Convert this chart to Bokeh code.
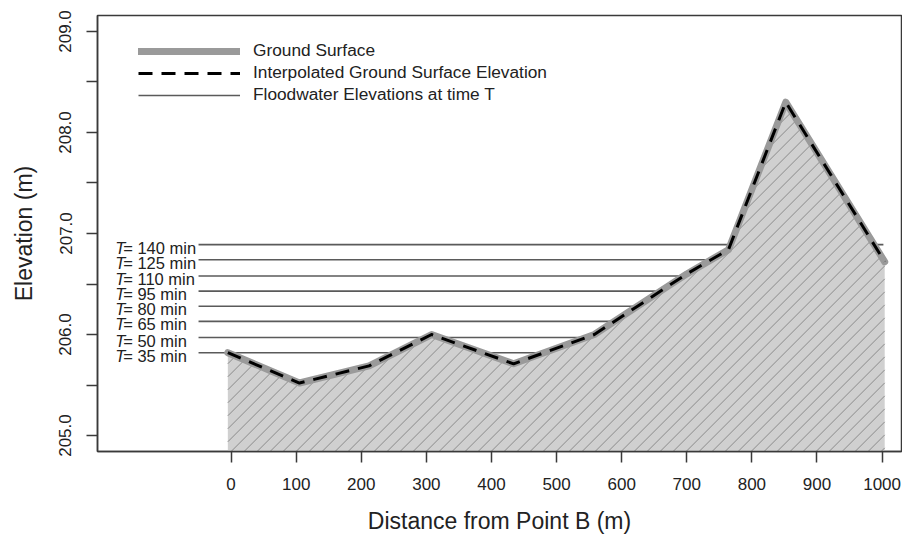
import numpy as np
from bokeh.plotting import figure
from bokeh.models import Range1d, FixedTicker, Legend, LegendItem, ColumnDataSource
from bokeh.core.properties import value
from bokeh.embed import file_html
from bokeh.resources import INLINE

# ---- data ----
distance = [-5, 105, 212, 308, 434, 558, 700, 764, 852, 1004]
ground_elev = [205.82, 205.52, 205.69, 206.00, 205.71, 206.00, 206.60, 206.84, 208.30, 206.72]
interp_elev = [205.82, 205.52, 205.69, 206.00, 205.71, 206.00, 206.60, 206.84, 208.30, 206.72]

flood_times = [35, 50, 65, 80, 95, 110, 125, 140]
flood_elev = [205.82, 205.97, 206.13, 206.28, 206.43, 206.58, 206.74, 206.89]
flood_start = -50
flood_end = 1002
label_x = -178

x_ticks = [0, 100, 200, 300, 400, 500, 600, 700, 800, 900, 1000]
y_ticks = [205.0, 205.5, 206.0, 206.5, 207.0, 207.5, 208.0, 208.5, 209.0]

FONT = "Liberation Sans"
AX = "#3a3a3a"
TXT = "#222222"

W, H = 902, 536
BL, BR, BT, BB = 97, 1, 15, 85
x0r, x1r = -205.2, 1029.8
y0, y1 = 204.842, 209.158

p = figure(width=W, height=H, output_backend="svg", toolbar_location=None,
           x_range=Range1d(x0r, x1r), y_range=Range1d(y0, y1),
           min_border_left=BL, min_border_right=BR, min_border_top=BT, min_border_bottom=BB)
p.grid.visible = False
p.outline_line_color = AX
p.outline_line_width = 1.5
p.background_fill_color = "white"
p.border_fill_color = "white"

# floodwater lines (beneath the ground polygon)
n = len(flood_elev)
r_flood = p.segment(x0=[flood_start] * n, x1=[flood_end] * n, y0=flood_elev, y1=flood_elev,
                    line_color="#5a5a5a", line_width=1.6)

# ground polygon fill
poly_x = distance + [distance[-1], distance[0]]
poly_y = ground_elev + [y0, y0]
p.patch(poly_x, poly_y, fill_color="#d0d0d0", line_color=None)

# 45-degree hatch lines clipped to the area under the ground profile
sx = (W - BL - BR) / (x1r - x0r)
sy = (H - BT - BB) / (y1 - y0)
m = sx / sy                     # data slope that looks like 45 degrees on screen
step = 13 / sx                  # 13 px between hatch lines
dx = np.array(distance, float)
gz = np.array(ground_elev, float)
hx0, hx1, hy0, hy1 = [], [], [], []
a = np.floor((dx[0] - (gz.max() - y0) / m) / step) * step
while a < dx[-1]:
    lo, hi = max(a, dx[0]), dx[-1]
    xs = np.concatenate([[lo], dx[(dx > lo) & (dx < hi)], [hi]])
    g = np.interp(xs, dx, gz) - (y0 + m * (xs - a))
    start = xs[0] if g[0] >= 0 else None
    segs = []
    for i in range(len(xs) - 1):
        ga, gb = g[i], g[i + 1]
        if ga >= 0 and gb < 0:
            xc = xs[i] + (xs[i + 1] - xs[i]) * ga / (ga - gb)
            segs.append((start, xc))
            start = None
        elif ga < 0 and gb >= 0:
            start = xs[i] + (xs[i + 1] - xs[i]) * ga / (ga - gb)
    if start is not None:
        segs.append((start, xs[-1]))
    for s0, s1 in segs:
        hx0.append(s0); hx1.append(s1)
        hy0.append(y0 + m * (s0 - a)); hy1.append(y0 + m * (s1 - a))
    a += step
p.segment(x0=hx0, x1=hx1, y0=hy0, y1=hy1, line_color="#8a8a8a", line_width=1)

r_ground = p.line(distance, ground_elev, line_color="#9a9a9a", line_width=7,
                  line_cap="round", line_join="round")
r_interp = p.line(distance, interp_elev, line_color="black", line_width=3,
                  line_dash="14 9", line_join="round")

# labels T= xx min
src = ColumnDataSource(dict(x=[label_x] * n, y=flood_elev,
                            t=["T"] * n, rest=[f"= {t} min" for t in flood_times]))
p.text(x="x", y="y", text="t", source=src, text_font=value(FONT), text_font_size="16.5px",
       text_font_style="italic", text_color=TXT, text_baseline="alphabetic", y_offset=3)
p.text(x="x", y="y", text="rest", source=src, text_font=value(FONT), text_font_size="16.5px",
       text_color=TXT, text_baseline="alphabetic", y_offset=3, x_offset=8)

# axes
for ax in (p.xaxis[0], p.yaxis[0]):
    ax.axis_line_color = AX
    ax.axis_line_width = 1.5
    ax.major_tick_line_color = AX
    ax.major_tick_line_width = 1.5
    ax.major_tick_out = 11
    ax.major_tick_in = 0
    ax.minor_tick_line_color = None
    ax.major_label_text_font = FONT
    ax.major_label_text_font_size = "17px"
    ax.major_label_text_color = TXT
    ax.axis_label_text_font = FONT
    ax.axis_label_text_font_size = "23px"
    ax.axis_label_text_font_style = "normal"
    ax.axis_label_text_color = TXT

p.xaxis.ticker = FixedTicker(ticks=x_ticks)
p.xaxis.axis_label = "Distance from Point B (m)"
p.xaxis.major_label_standoff = 15
p.xaxis.axis_label_standoff = 15

p.yaxis.ticker = FixedTicker(ticks=y_ticks)
p.yaxis.major_label_overrides = {v: (f"{v:.1f}" if v == int(v) else "") for v in y_ticks}
p.yaxis.major_label_orientation = "vertical"
p.yaxis.axis_label = "Elevation (m)"
p.yaxis.major_label_standoff = 15
p.yaxis.axis_label_standoff = 20

legend = Legend(items=[LegendItem(label="Ground Surface", renderers=[r_ground]),
                       LegendItem(label="Interpolated Ground Surface Elevation", renderers=[r_interp]),
                       LegendItem(label="Floodwater Elevations at time T", renderers=[r_flood])],
                location=(36, 341), glyph_width=102, glyph_height=20, label_height=20,
                spacing=1, padding=5, margin=0, label_standoff=13,
                label_text_font=FONT, label_text_font_size="17.3px", label_text_color=TXT,
                border_line_alpha=0, background_fill_alpha=0)
p.add_layout(legend)

open("out.html", "w").write(file_html(p, INLINE))
